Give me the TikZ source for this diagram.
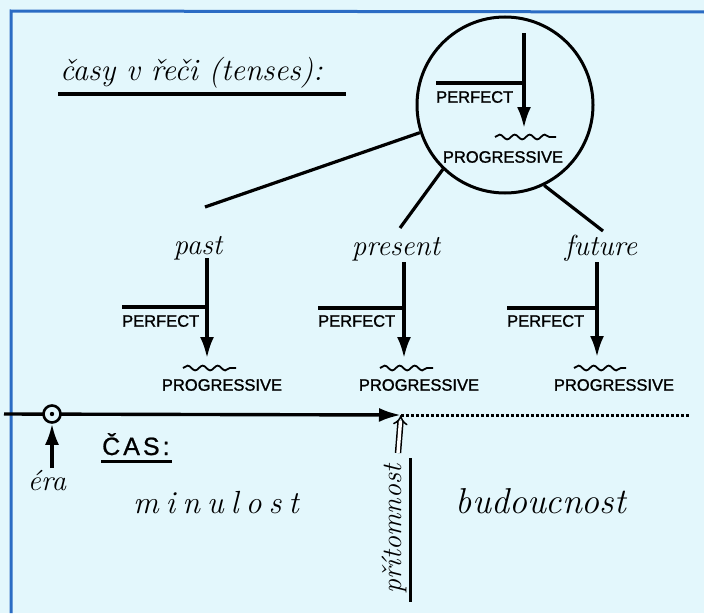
\documentclass[tikz,border=0pt]{standalone}
\usepackage{fontspec}
\setsansfont{Liberation Sans}[FakeBold=0.9]
\usetikzlibrary{arrows.meta,decorations.pathmorphing}
\definecolor{bgcol}{HTML}{E3F7FC}
\definecolor{framecol}{HTML}{2B6CC4}
\tikzset{
  lab/.style={font=\fontsize{29}{32}\selectfont\itshape, inner sep=0pt, anchor=base},
  caps/.style={font=\fontsize{16.5}{18}\selectfont\sffamily\addfontfeature{FakeBold=1.2}, inner sep=0pt},
  stem/.style={line width=3.2pt},
  arr/.style={line width=3.2pt, -{Latex[length=21pt,width=14pt]}},
  wave/.style={line width=1.8pt, decorate, decoration={snake, segment length=15pt, amplitude=2.4pt}},
}
\begin{document}
\begin{tikzpicture}[x=1pt,y=-1pt]
\useasboundingbox (0,0) rectangle (704,613);
\fill[bgcol] (0,0) rectangle (704,613);
\draw[framecol, line width=3pt] (11,613) -- (11,11) -- (704,12);

% title
\node[lab, anchor=base west, font=\fontsize{31}{34}\selectfont\itshape] (title) at (60,80) {časy v řeči (tenses):};
\draw[line width=3.4pt] (58,94) -- (346,94);

% circle
\node[circle, draw, line width=3pt, minimum size=176pt, inner sep=0pt] (circ) at (505,105) {};
\coordinate (cTop) at (524,33);
\coordinate (cTip) at (524,128);
\coordinate (cPerf) at (436,83);
\coordinate (cJoin) at (524,83);
\draw[arr] (cTop) -- (cTip);
\draw[stem] (cPerf) -- (cJoin);
\node[caps, anchor=west] (cPerfT) at (436,97) {PERFECT};
\coordinate (cW1) at (495,137); \coordinate (cW2) at (556,137);
\draw[wave] (cW1) -- (cW2);
\node[caps] (cProg) at (503,157) {PROGRESSIVE};

% labels
\node[lab] (past) at (198,254) {past};
\node[lab] (present) at (396,255) {present};
\node[lab] (future) at (601,255) {future};

\coordinate (pastTop) at (205,207);
\coordinate (presTop) at (400,228);
\coordinate (futTop) at (603,231);
\draw[stem] (circ.198) -- (pastTop);
\draw[stem] (circ.226) -- (presTop);
\draw[stem] (circ.-64) -- (futTop);

% past group
\coordinate (aTop) at (207,258); \coordinate (aTip) at (207,358);
\coordinate (aPerf) at (122,307); \coordinate (aJoin) at (207,307);
\draw[arr] (aTop) -- (aTip);
\draw[stem] (aPerf) -- (aJoin);
\node[caps, anchor=west] (aPerfT) at (122,321) {PERFECT};
\coordinate (aW1) at (183,368); \coordinate (aW2) at (236,368);
\draw[wave] (aW1) -- (aW2);
\node[caps] (aProg) at (222,385) {PROGRESSIVE};

% present group
\coordinate (bTop) at (404,262); \coordinate (bTip) at (404,358);
\coordinate (bPerf) at (318,308); \coordinate (bJoin) at (404,308);
\draw[arr] (bTop) -- (bTip);
\draw[stem] (bPerf) -- (bJoin);
\node[caps, anchor=west] (bPerfT) at (318,321) {PERFECT};
\coordinate (bW1) at (380,368); \coordinate (bW2) at (433,368);
\draw[wave] (bW1) -- (bW2);
\node[caps] (bProg) at (419,385) {PROGRESSIVE};

% future group
\coordinate (fTop) at (597,262); \coordinate (fTip) at (597,357);
\coordinate (fPerf) at (507,308); \coordinate (fJoin) at (597,308);
\draw[arr] (fTop) -- (fTip);
\draw[stem] (fPerf) -- (fJoin);
\node[caps, anchor=west] (fPerfT) at (507,321) {PERFECT};
\coordinate (fW1) at (574,368); \coordinate (fW2) at (626,368);
\draw[wave] (fW1) -- (fW2);
\node[caps] (fProg) at (614,385) {PROGRESSIVE};

% time axis
\coordinate (axL) at (4,414);
\coordinate (now) at (401,415);
\coordinate (axR) at (690,415);
\draw[line width=3.4pt, -{Latex[length=22pt,width=14pt]}] (axL) -- (now);
\draw[line width=3pt, dotted] (now) -- (axR);
\node[circle, draw, line width=2.6pt, fill=bgcol, minimum size=17pt, inner sep=0pt] (eraPt) at (52,414) {};
\fill (eraPt) circle (2.2pt);
\node[lab] (era) at (47,490) {éra};
\coordinate (eraTail) at (52,468);
\draw[arr] (eraTail) -- (eraPt);

\node[font=\fontsize{25}{28}\selectfont\sffamily, inner sep=0pt, anchor=base west] (cas) at (102,455) {Č\hspace{3pt}A\hspace{3pt}S\hspace{3pt}:};
\draw[line width=3pt] (101,461) -- (172,461);

\node[lab, font=\fontsize{32}{34}\selectfont\itshape] (minulost) at (216,513) {m\hspace{7pt}i\hspace{7pt}n\hspace{7pt}u\hspace{7pt}l\hspace{7pt}o\hspace{7pt}s\hspace{7pt}t};
\node[lab, font=\fontsize{36}{38}\selectfont\itshape] (budoucnost) at (541,513) {budoucnost};

% present marker
\node[lab, rotate=90, font=\fontsize{28}{30}\selectfont\itshape] (pritomnost) at (401,529) {přítomnost};
\coordinate (pmTail) at (398,453);
\draw[double, double distance=3.4pt, line width=1.5pt, -{Implies}] (pmTail) -- (now);
\coordinate (ulA) at (410,458); \coordinate (ulB) at (410,602);
\draw[line width=3pt] (ulA) -- (ulB);
\end{tikzpicture}
\end{document}
